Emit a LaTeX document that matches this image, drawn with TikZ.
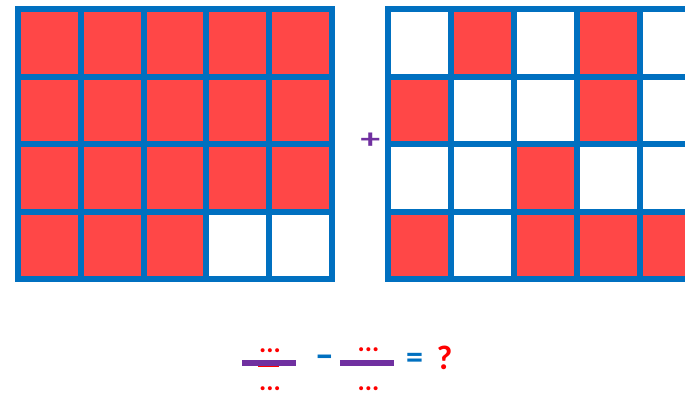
\documentclass[tikz,border=0pt]{standalone}
\usepackage{fontspec}
\setmainfont{Carlito}
\definecolor{cellred}{HTML}{FF4747}
\definecolor{gridblue}{HTML}{0070C0}
\definecolor{fracpurple}{HTML}{7030A0}
\begin{document}
\begin{tikzpicture}[x=1pt,y=-1pt,every node/.style={font=\bfseries,inner sep=0pt}]
\clip (0,0) rectangle (685,392);
\fill[white] (0,0) rectangle (685,392);
% left grid: every cell shaded but two
\foreach \r/\c in {0/0,0/1,0/2,0/3,0/4,1/0,1/1,1/2,1/3,1/4,2/0,2/1,2/2,2/3,2/4,3/0,3/1,3/2}
  \fill[cellred] ({18+62.8*\c},{9+67.6*\r}) rectangle ++(62.8,67.6);
\foreach \c in {0,...,5}
  \draw[gridblue,line width=6pt] ({18+62.8*\c},9) -- ++(0,270.4);
\foreach \r in {0,...,4}
  \draw[gridblue,line width=6pt] (15,{9+67.6*\r}) -- ++(320,0);
% right grid: scattered cells
\foreach \r/\c in {0/1,0/3,1/0,1/3,2/2,3/0,3/2,3/3,3/4}
  \fill[cellred] ({388+63*\c},{9+67.6*\r}) rectangle ++(63,67.6);
\foreach \c in {0,...,5}
  \draw[gridblue,line width=6pt] ({388+63*\c},9) -- ++(0,270.4);
\foreach \r in {0,...,4}
  \draw[gridblue,line width=6pt] (385,{9+67.6*\r}) -- ++(320,0);
% plus between the grids
\node[fracpurple,font=\bfseries\fontsize{28}{28}\selectfont,xscale=1.4] (plus) at (370.5,141) {+};
% first fraction
\draw[fracpurple,line width=6pt] (242,362.5) -- (296,362.5);
\draw[red,line width=1.2pt] (258,366.3) -- (279,366.3);
\node[red,anchor=base,font=\bfseries\fontsize{27}{27}\selectfont] (num1) at (270,352) {...};
\node[red,anchor=base,font=\bfseries\fontsize{27}{27}\selectfont] (den1) at (270,390.5) {...};
% minus
\node[gridblue,font=\bfseries\fontsize{34}{34}\selectfont,xscale=1.6] (minus) at (324.5,361) {-};
% second fraction
\draw[fracpurple,line width=6pt] (340,362.5) -- (394,362.5);
\node[red,anchor=base,font=\bfseries\fontsize{27}{27}\selectfont] (num2) at (368.5,351) {...};
\node[red,anchor=base,font=\bfseries\fontsize{27}{27}\selectfont] (den2) at (368.5,390.5) {...};
% equals and question
\node[gridblue,font=\bfseries\fontsize{34}{34}\selectfont] (eq) at (414.5,360.5) {=};
\node[red,anchor=base,font=\bfseries\fontsize{34}{34}\selectfont] (ask) at (444.5,369) {?};
\end{tikzpicture}
\end{document}
